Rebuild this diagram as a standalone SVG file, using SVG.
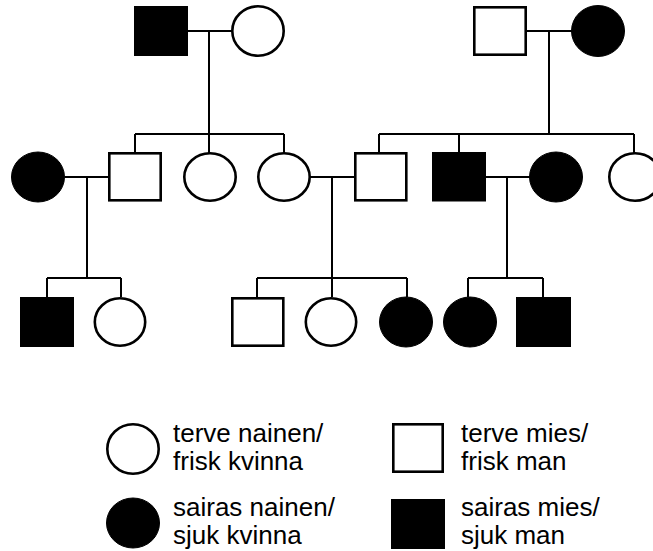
<svg xmlns="http://www.w3.org/2000/svg" width="653" height="551" viewBox="0 0 653 551">
<style>
.w{fill:#fff;stroke:#000;stroke-width:2.6}
.b{fill:#000;stroke:#000;stroke-width:1}
.c{fill:none;stroke:#000;stroke-width:2}
text{font-family:"Liberation Sans",Arial,sans-serif;font-size:26px;fill:#000}
</style>
<rect width="653" height="551" fill="#fff"/>
<g id="connectors" class="c">
<path d="M188 31H232M209 31V134M135 134H284M135 134V153M284 134V153M209 134V153"/>
<path d="M527 31H572M549 31V134M379 134H634M379 134V153M459 134V153M634 134V153"/>
<path d="M65 177H109M87 177V278M47 278H121M47 278V297M121 278V297"/>
<path d="M310 177H355M332 177V278M257 278H407M257 278V297M332 278V297M407 278V297"/>
<path d="M486 177H530M507 177V278M468 278H543M468 278V297M543 278V297"/>
</g>
<g id="I1"><rect class="b" x="134.5" y="6.5" width="53" height="49"/></g>
<g id="I2"><ellipse class="w" cx="258" cy="31" rx="25.7" ry="24.7"/></g>
<g id="I3"><rect class="w" x="474.3" y="7.3" width="51.4" height="47.4"/></g>
<g id="I4"><ellipse class="b" cx="598" cy="31" rx="26.5" ry="25.5"/></g>
<g id="II1"><ellipse class="b" cx="38" cy="177" rx="26.5" ry="25"/></g>
<g id="II2"><rect class="w" x="109.3" y="153.3" width="51.4" height="47"/></g>
<g id="II3"><ellipse class="w" cx="210" cy="177" rx="25.7" ry="23.7"/></g>
<g id="II4"><ellipse class="w" cx="284" cy="177" rx="25.7" ry="23.7"/></g>
<g id="II5"><rect class="w" x="355.3" y="153.3" width="51" height="47"/></g>
<g id="II6"><rect class="b" x="432.5" y="152.5" width="53" height="48.5"/></g>
<g id="II7"><ellipse class="b" cx="556" cy="177" rx="26.5" ry="25"/></g>
<g id="II8"><ellipse class="w" cx="635" cy="177" rx="25.7" ry="23.7"/></g>
<g id="III1"><rect class="b" x="20.5" y="297.5" width="53" height="49"/></g>
<g id="III2"><ellipse class="w" cx="120" cy="322" rx="25.2" ry="23.7"/></g>
<g id="III3"><rect class="w" x="232.3" y="298.3" width="51" height="47.4"/></g>
<g id="III4"><ellipse class="w" cx="331" cy="322" rx="25.2" ry="23.7"/></g>
<g id="III5"><ellipse class="b" cx="406" cy="322" rx="26.5" ry="25"/></g>
<g id="III6"><ellipse class="b" cx="470" cy="322" rx="26.5" ry="25"/></g>
<g id="III7"><rect class="b" x="516.5" y="297.5" width="54" height="49"/></g>
<g id="legend">
<ellipse class="w" cx="133" cy="449" rx="25.7" ry="24.7"/>
<text x="173" y="442">terve nainen/</text>
<text x="173" y="470">frisk kvinna</text>
<ellipse class="b" cx="133" cy="523" rx="26.5" ry="25"/>
<text x="173" y="516">sairas nainen/</text>
<text x="173" y="544">sjuk kvinna</text>
<rect class="w" x="393.3" y="424.3" width="49.4" height="47.4"/>
<text x="461" y="442">terve mies/</text>
<text x="461" y="470">frisk man</text>
<rect class="b" x="391.5" y="499.5" width="53" height="49"/>
<text x="461" y="516">sairas mies/</text>
<text x="461" y="544">sjuk man</text>
</g>
</svg>
